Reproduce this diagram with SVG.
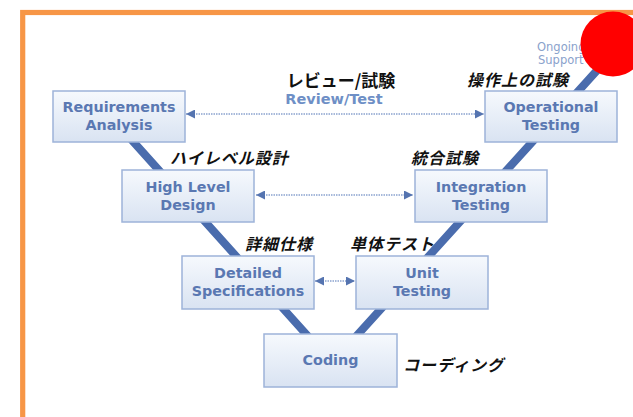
<svg xmlns="http://www.w3.org/2000/svg" width="633" height="417" viewBox="0 0 633 417">
<defs>
<linearGradient id="boxg" x1="0" y1="0" x2="0" y2="1">
<stop offset="0" stop-color="#f6f9fd"/>
<stop offset="1" stop-color="#d9e3f2"/>
</linearGradient>
<marker id="ah" viewBox="0 0 10 10" refX="10" refY="5" markerWidth="10" markerHeight="9" markerUnits="userSpaceOnUse" orient="auto-start-reverse">
<path d="M0,0 L10,5 L0,10 z" fill="#5574b0"/>
</marker>
<style>
.box{fill:url(#boxg);stroke:#9db3d9;stroke-width:1.5}
.bt{font-family:"DejaVu Sans","Verdana",sans-serif;font-weight:bold;font-size:14.3px;fill:#5a78b2;text-anchor:middle}
.jp{font-family:"Noto Sans CJK JP",sans-serif;font-weight:bold;font-style:italic;font-size:16px;fill:#111;letter-spacing:1px}
.dot{stroke:#8aa3ce;stroke-width:1.4;stroke-dasharray:1.5 1;fill:none}
.og{font-family:"DejaVu Sans",sans-serif;font-size:11.5px;fill:#8aa2cc}
</style>
</defs>
<rect x="0" y="0" width="633" height="417" fill="#ffffff"/>
<rect x="22.7" y="12.5" width="700" height="500" fill="none" stroke="#f79646" stroke-width="5.2"/>
<g id="connectors">
<polyline points="112,118 332,363 611,55" fill="none" stroke="#4a6cad" stroke-width="8" stroke-linejoin="miter"/>
<line class="dot" x1="186" y1="114" x2="484" y2="114" marker-start="url(#ah)" marker-end="url(#ah)"/>
<line class="dot" x1="256" y1="195" x2="413" y2="195" marker-start="url(#ah)" marker-end="url(#ah)"/>
<line class="dot" x1="315" y1="281" x2="355" y2="281" marker-start="url(#ah)" marker-end="url(#ah)"/>
</g>
<g id="title">
<text x="341" y="87" font-family="'Noto Sans CJK JP',sans-serif" font-weight="bold" font-size="17" text-anchor="middle" fill="#111">レビュー/試験</text>
<text x="334" y="104" font-family="'DejaVu Sans',sans-serif" font-weight="bold" font-size="14.5" text-anchor="middle" fill="#6e8fc6">Review/Test</text>
</g>
<g id="ongoing">
<text class="og" x="537" y="51">Ongoing</text>
<text class="og" x="538" y="64">Support</text>
</g>
<g id="requirements">
<rect class="box" x="53" y="91" width="132" height="51"/>
<text class="bt" x="119" y="112">Requirements</text>
<text class="bt" x="119" y="130">Analysis</text>
</g>
<g id="operational">
<rect class="box" x="485" y="91" width="132" height="51"/>
<text class="bt" x="551" y="112">Operational</text>
<text class="bt" x="551" y="130">Testing</text>
<text class="jp" x="467" y="86">操作上の試験</text>
</g>
<g id="highlevel">
<rect class="box" x="122" y="170" width="132" height="52"/>
<text class="bt" x="188" y="192">High Level</text>
<text class="bt" x="188" y="210">Design</text>
<text class="jp" x="170" y="164">ハイレベル設計</text>
</g>
<g id="integration">
<rect class="box" x="415" y="170" width="132" height="52"/>
<text class="bt" x="481" y="192">Integration</text>
<text class="bt" x="481" y="210">Testing</text>
<text class="jp" x="411" y="164">統合試験</text>
</g>
<g id="detailed">
<rect class="box" x="182" y="256" width="132" height="53"/>
<text class="bt" x="248" y="278">Detailed</text>
<text class="bt" x="248" y="296">Specifications</text>
<text class="jp" x="245" y="250">詳細仕様</text>
</g>
<g id="unit">
<rect class="box" x="356" y="256" width="132" height="53"/>
<text class="bt" x="422" y="278">Unit</text>
<text class="bt" x="422" y="296">Testing</text>
<text class="jp" x="350" y="250">単体テスト</text>
</g>
<g id="coding">
<rect class="box" x="264" y="334" width="133" height="53"/>
<text class="bt" x="330.5" y="365">Coding</text>
<text class="jp" x="403" y="371">コーディング</text>
</g>
<circle cx="613" cy="44" r="32.5" fill="#ff0000"/>
</svg>
